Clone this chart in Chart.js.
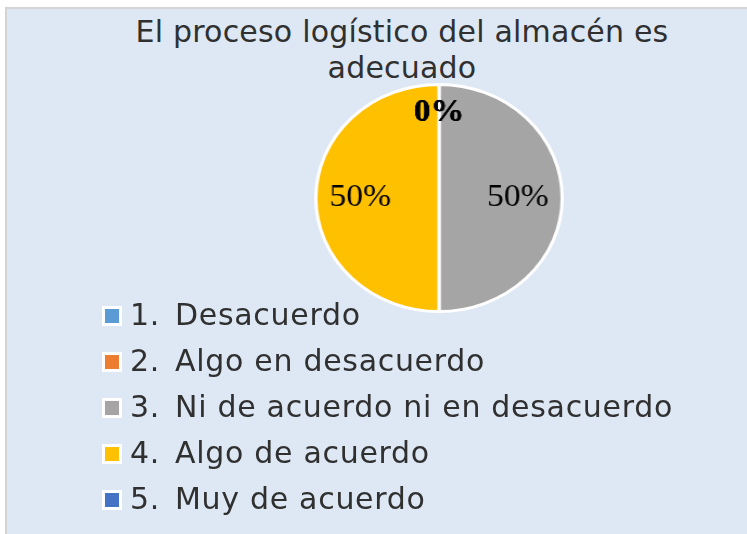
<!DOCTYPE html>
<html>
<head>
<meta charset="utf-8">
<script src="https://cdn.jsdelivr.net/npm/chart.js@4/dist/chart.umd.min.js"></script>
<style>
  html, body { margin: 0; padding: 0; background: #ffffff; width: 747px; height: 534px; overflow: hidden; }
  #frame { position: absolute; left: 5px; top: 7px; width: 780px; height: 560px; background: #dde8f4;
           border-left: 2px solid #d4d4d4; border-top: 2px solid #d4d4d4; }
  #title { position: absolute; left: 102px; top: 14px; width: 600px; text-align: center;
           font-family: "DejaVu Sans", sans-serif; font-size: 30px; line-height: 36px; color: #303030; letter-spacing: 0.2px; }
  #pieWrap { position: absolute; left: 324px; top: 83px; width: 230px; height: 230px; transform: scaleX(1.085); transform-origin: 50% 50%; }
  #legend { position: absolute; left: 0; top: 292px; width: 747px; font-family: "DejaVu Sans", sans-serif; font-size: 30px; color: #303030; }
  .row { position: relative; height: 46px; line-height: 46px; white-space: nowrap; letter-spacing: 0.7px; }
  .box { position: absolute; left: 102px; top: 14px; width: 14px; height: 14px; border: 3px solid #ffffff; }
  .num { position: absolute; left: 130px; top: 0; }
  .lbl { position: absolute; left: 175px; top: 0; }
</style>
</head>
<body>
<div id="frame"></div>
<div id="title"></div>
<div id="pieWrap"><canvas id="c" width="230" height="230"></canvas></div>
<div id="legend"></div>
<script>
const titleLines = ["El proceso logístico del almacén es", "adecuado"];
const categories = ["Desacuerdo", "Algo en desacuerdo", "Ni de acuerdo ni en desacuerdo", "Algo de acuerdo", "Muy de acuerdo"];
const numbers = ["1.", "2.", "3.", "4.", "5."];
const values = [0, 0, 50, 50, 0];
const colors = ["#5b9bd5", "#ed7d31", "#a5a5a5", "#ffc000", "#4472c4"];

document.getElementById('title').innerHTML = titleLines.join('<br>');

const legend = document.getElementById('legend');
categories.forEach((cat, i) => {
  const row = document.createElement('div');
  row.className = 'row';
  const box = document.createElement('div');
  box.className = 'box';
  box.style.background = colors[i];
  const num = document.createElement('span');
  num.className = 'num';
  num.textContent = numbers[i];
  const lbl = document.createElement('span');
  lbl.className = 'lbl';
  lbl.textContent = cat;
  row.appendChild(box); row.appendChild(num); row.appendChild(lbl);
  legend.appendChild(row);
});

const pctLabels = {
  id: 'pctLabels',
  afterDatasetsDraw(chart) {
    const ctx = chart.ctx;
    const meta = chart.getDatasetMeta(0);
    const data = chart.data.datasets[0].data;
    const total = data.reduce((a, b) => a + b, 0);
    ctx.save();
    ctx.fillStyle = '#000000';
    ctx.textAlign = 'center';
    ctx.textBaseline = 'middle';
    meta.data.forEach((arc, i) => {
      const p = arc.getProps(['x', 'y', 'startAngle', 'endAngle', 'outerRadius'], true);
      const mid = (p.startAngle + p.endAngle) / 2;
      const v = data[i];
      const frac = v === 0 ? 0.75 : 0.64;
      const r = p.outerRadius * frac;
      const x = p.x + Math.cos(mid) * r;
      const y = p.y + Math.sin(mid) * r;
      ctx.font = (v === 0 ? 'bold ' : '') + '31px "Liberation Serif", "Times New Roman", serif';
      ctx.fillText(Math.round(v / total * 100) + '%', x, y);
    });
    ctx.restore();
  }
};

new Chart(document.getElementById('c'), {
  type: 'pie',
  data: {
    labels: categories,
    datasets: [{
      data: values,
      backgroundColor: colors,
      borderColor: '#ffffff',
      borderWidth: 3
    }]
  },
  options: {
    responsive: false,
    animation: false,
    layout: { padding: 0 },
    plugins: {
      legend: { display: false },
      title: { display: false },
      tooltip: { enabled: false }
    }
  },
  plugins: [pctLabels]
});
</script>
</body>
</html>
